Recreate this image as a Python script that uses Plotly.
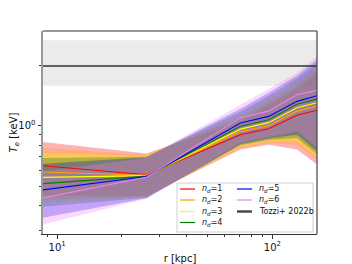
import math
import plotly.graph_objects as go

# ---------------- data ----------------
r_kpc = [8.6, 26, 71, 96, 130, 161]
labels = ["1", "2", "3", "4", "5", "6"]
colors = ["#ff0000", "#ffa500", "#ffff00", "#008000", "#0000ff", "#ee82ee"]
fill_rgb = ["255,0,0", "255,165,0", "255,255,0", "0,128,0", "0,0,255", "238,130,238"]

T_nd1 = [0.632, 0.570, 0.902, 0.966, 1.128, 1.194]
T_nd2 = [0.588, 0.567, 0.934, 1.000, 1.181, 1.250]
T_nd3 = [0.553, 0.564, 0.961, 1.035, 1.229, 1.301]
T_nd4 = [0.515, 0.561, 0.994, 1.071, 1.279, 1.355]
T_nd5 = [0.479, 0.558, 1.031, 1.112, 1.321, 1.410]
T_nd6 = [0.437, 0.554, 1.096, 1.181, 1.426, 1.498]

hi_nd1 = [0.830, 0.726, 1.059, 1.272, 1.546, 1.835]
hi_nd2 = [0.774, 0.717, 1.096, 1.316, 1.600, 1.899]
hi_nd3 = [0.731, 0.709, 1.134, 1.362, 1.655, 1.966]
hi_nd4 = [0.691, 0.701, 1.174, 1.410, 1.713, 2.046]
hi_nd5 = [0.647, 0.697, 1.215, 1.459, 1.774, 2.130]
hi_nd6 = [0.590, 0.693, 1.272, 1.522, 1.829, 2.212]

lo_nd1 = [0.448, 0.448, 0.760, 0.804, 0.760, 0.640]
lo_nd2 = [0.428, 0.443, 0.774, 0.820, 0.804, 0.677]
lo_nd3 = [0.414, 0.441, 0.786, 0.834, 0.835, 0.701]
lo_nd4 = [0.395, 0.438, 0.798, 0.849, 0.869, 0.721]
lo_nd5 = [0.348, 0.436, 0.809, 0.864, 0.902, 0.747]
lo_nd6 = [0.322, 0.433, 0.820, 0.879, 0.937, 0.777]

tozzi_T = 1.98
tozzi_lo = 1.58
tozzi_hi = 2.66

x_tickvals = [10, 100]
x_ticktext = ["10<sup>1</sup>", "10<sup>2</sup>"]
x_minor = [9, 20, 30, 40, 50, 60, 70, 80, 90]
y_tickvals = [1]
y_ticktext = ["10<sup>0</sup>"]
y_minor = [0.3, 0.4, 0.5, 0.6, 0.7, 0.8, 0.9, 2, 3]

lines = [T_nd1, T_nd2, T_nd3, T_nd4, T_nd5, T_nd6]
highs = [hi_nd1, hi_nd2, hi_nd3, hi_nd4, hi_nd5, hi_nd6]
lows = [lo_nd1, lo_nd2, lo_nd3, lo_nd4, lo_nd5, lo_nd6]

# ---------------- figure ----------------
OFF = 8  # page body margin in the browser
W, H = 352 - OFF, 264 - OFF
L, R, T, B = 43 - OFF, 317 - OFF, 31 - OFF, 234 - OFF
FONT = "DejaVu Sans"

fig = go.Figure()

xr = [r_kpc[0], r_kpc[-1]]
# Tozzi band
fig.add_trace(go.Scatter(x=xr, y=[tozzi_lo] * 2, mode="lines", line=dict(width=0),
                         showlegend=False, hoverinfo="skip"))
fig.add_trace(go.Scatter(x=xr, y=[tozzi_hi] * 2, mode="lines", line=dict(width=0),
                         fill="tonexty", fillcolor="#ebebeb", showlegend=False, hoverinfo="skip"))

for lo, hi, rgb in zip(lows, highs, fill_rgb):
    fig.add_trace(go.Scatter(x=r_kpc, y=lo, mode="lines", line=dict(width=0),
                             showlegend=False, hoverinfo="skip"))
    fig.add_trace(go.Scatter(x=r_kpc, y=hi, mode="lines", line=dict(width=0),
                             fill="tonexty", fillcolor=f"rgba({rgb},0.3)",
                             showlegend=False, hoverinfo="skip"))

for y, c, lab in zip(lines, colors, labels):
    fig.add_trace(go.Scatter(x=r_kpc, y=y, mode="lines", line=dict(color=c, width=1.1),
                             name=f"n_d={lab}", showlegend=False))

fig.add_trace(go.Scatter(x=xr, y=[tozzi_T] * 2, mode="lines",
                         line=dict(color="#333333", width=1.4), name="Tozzi+ 2022b",
                         showlegend=False))

# ---------------- manual legend (positions in reference pixels) ----------------
def px(x):
    return (x - OFF - L) / (R - L)

def py(y):
    return (B - (y - OFF)) / (B - T)

shapes = []
annotations = []
shapes.append(dict(type="rect", xref="paper", yref="paper",
                   x0=px(177), x1=px(313), y0=py(232), y1=py(183),
                   line=dict(color="#d0d0d0", width=1), fillcolor="rgba(255,255,255,0.85)",
                   layer="above"))
leg_items = [(colors[i], f"<i>n</i><sub><i>d</i></sub>={labels[i]}", 1.2) for i in range(6)]
leg_items.append(("#444444", "Tozzi+ 2022b", 2.4))
rows = [189, 200, 211.5, 222.5]
positions = [(0, 0), (0, 1), (0, 2), (0, 3), (1, 0), (1, 1), (1, 2)]
for (c, txt, lw), (col, row) in zip(leg_items, positions):
    x0 = 180 if col == 0 else 237
    yy = rows[row]
    shapes.append(dict(type="line", xref="paper", yref="paper",
                       x0=px(x0), x1=px(x0 + 15), y0=py(yy), y1=py(yy),
                       line=dict(color=c, width=lw), layer="above"))
    annotations.append(dict(xref="paper", yref="paper", x=px(x0 + 20), y=py(yy),
                            xanchor="left", yanchor="middle", showarrow=False,
                            text=txt, font=dict(family=FONT, size=8, color="#111111")))

# right / top spines
shapes.append(dict(type="line", xref="paper", yref="paper", x0=1, x1=1, y0=0, y1=1,
                   line=dict(color="#444444", width=1.2), layer="above"))
shapes.append(dict(type="line", xref="paper", yref="paper", x0=0, x1=1, y0=1, y1=1,
                   line=dict(color="#333333", width=1.2), layer="above"))

fig.update_layout(
    width=W, height=H,
    margin=dict(l=L, r=W - R, t=T, b=H - B, autoexpand=False),
    paper_bgcolor="white", plot_bgcolor="white",
    showlegend=False,
    shapes=shapes, annotations=annotations,
    font=dict(family=FONT, size=10, color="#111111"),
)
fig.update_xaxes(type="log", range=[math.log10(r_kpc[0]), math.log10(r_kpc[-1])],
                 automargin=False,
                 showgrid=False, zeroline=False,
                 showline=True, linecolor="#333333", linewidth=1.2,
                 tickmode="array", tickvals=x_tickvals, ticktext=x_ticktext,
                 ticks="outside", ticklen=3.5, tickwidth=1, tickcolor="#333333",
                 tickfont=dict(family=FONT, size=10),
                 minor=dict(tickmode="array", tickvals=x_minor, ticks="outside",
                            ticklen=2, tickwidth=0.8, tickcolor="#333333", showgrid=False),
                 title=dict(text="r [kpc]", font=dict(family=FONT, size=10), standoff=4))
fig.update_yaxes(type="log", range=[-0.539, 0.471],
                 automargin=False,
                 showgrid=False, zeroline=False,
                 showline=True, linecolor="#999999", linewidth=2,
                 tickmode="array", tickvals=y_tickvals, ticktext=y_ticktext,
                 ticks="outside", ticklen=3.5, tickwidth=1, tickcolor="#333333",
                 tickfont=dict(family=FONT, size=10),
                 minor=dict(tickmode="array", tickvals=y_minor, ticks="outside",
                            ticklen=2, tickwidth=0.8, tickcolor="#333333", showgrid=False),
                 title=dict(text="<i>T</i><sub><i>e</i></sub> [keV]",
                            font=dict(family=FONT, size=10), standoff=6))

fig.write_html("out.html")
